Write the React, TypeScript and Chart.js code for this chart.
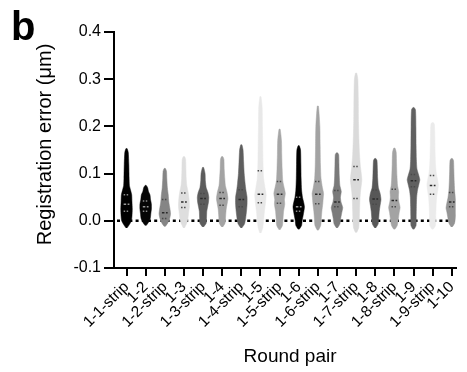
import React, { useEffect, useRef } from 'react';
import { Chart, registerables } from 'chart.js';

Chart.register(...registerables);

const FONT = "'Liberation Sans', Arial, Helvetica, sans-serif";

const categories = ['1-1-strip', '1-2', '1-2-strip', '1-3', '1-3-strip', '1-4', '1-4-strip', '1-5', '1-5-strip', '1-6', '1-6-strip', '1-7', '1-7-strip', '1-8', '1-8-strip', '1-9', '1-9-strip', '1-10'];
const yTicks = [-0.1, 0, 0.1, 0.2, 0.3, 0.4];

// violin outline: error levels (µm) and relative density at each level
const violinLevels: number[][] = [
  [-0.015, -0.008, 0.0, 0.01, 0.025, 0.04, 0.055, 0.065, 0.075, 0.09, 0.12, 0.145, 0.153],
  [-0.01, -0.003, 0.005, 0.015, 0.025, 0.035, 0.045, 0.055, 0.062, 0.07, 0.075],
  [-0.012, -0.005, 0.005, 0.015, 0.025, 0.04, 0.055, 0.07, 0.09, 0.105, 0.111],
  [-0.015, -0.005, 0.005, 0.02, 0.03, 0.045, 0.06, 0.075, 0.09, 0.11, 0.13, 0.136],
  [-0.013, -0.005, 0.005, 0.02, 0.03, 0.04, 0.05, 0.06, 0.07, 0.085, 0.1, 0.113],
  [-0.013, -0.005, 0.01, 0.025, 0.035, 0.047, 0.06, 0.075, 0.09, 0.11, 0.13, 0.136],
  [-0.015, -0.007, 0.005, 0.02, 0.035, 0.05, 0.065, 0.08, 0.1, 0.125, 0.15, 0.161],
  [-0.026, -0.015, 0.0, 0.02, 0.04, 0.055, 0.07, 0.09, 0.12, 0.16, 0.2, 0.24, 0.263],
  [-0.019, -0.01, 0.005, 0.02, 0.035, 0.045, 0.058, 0.07, 0.085, 0.11, 0.14, 0.17, 0.194],
  [-0.018, -0.01, 0.0, 0.01, 0.02, 0.03, 0.04, 0.05, 0.065, 0.09, 0.12, 0.15, 0.159],
  [-0.02, -0.01, 0.005, 0.02, 0.035, 0.05, 0.058, 0.07, 0.09, 0.12, 0.16, 0.2, 0.243],
  [-0.015, -0.007, 0.005, 0.015, 0.028, 0.04, 0.05, 0.062, 0.075, 0.095, 0.12, 0.14, 0.144],
  [-0.025, -0.015, 0.0, 0.02, 0.04, 0.06, 0.075, 0.087, 0.1, 0.115, 0.14, 0.17, 0.21, 0.26, 0.3, 0.313],
  [-0.015, -0.007, 0.005, 0.02, 0.033, 0.045, 0.058, 0.07, 0.09, 0.11, 0.128, 0.132],
  [-0.018, -0.01, 0.005, 0.018, 0.028, 0.04, 0.05, 0.062, 0.075, 0.095, 0.12, 0.145, 0.154],
  [-0.018, -0.01, 0.01, 0.03, 0.05, 0.065, 0.078, 0.087, 0.097, 0.11, 0.13, 0.16, 0.2, 0.235, 0.24],
  [-0.018, -0.01, 0.01, 0.03, 0.05, 0.065, 0.076, 0.088, 0.1, 0.12, 0.15, 0.18, 0.205, 0.208],
  [-0.013, -0.005, 0.008, 0.018, 0.027, 0.038, 0.05, 0.065, 0.085, 0.11, 0.128, 0.132],
];
const violinDensity: number[][] = [
  [0.1, 0.5, 0.85, 0.95, 1.0, 0.95, 0.9, 0.7, 0.5, 0.45, 0.4, 0.3, 0.1],
  [0.1, 0.5, 0.8, 0.9, 1.0, 1.0, 0.85, 0.75, 0.5, 0.35, 0.1],
  [0.1, 0.5, 0.85, 1.0, 0.9, 0.7, 0.6, 0.45, 0.35, 0.3, 0.1],
  [0.1, 0.5, 0.7, 0.85, 0.95, 0.9, 0.75, 0.5, 0.4, 0.35, 0.3, 0.1],
  [0.1, 0.55, 0.6, 0.65, 0.8, 0.95, 1.0, 0.85, 0.55, 0.4, 0.35, 0.1],
  [0.1, 0.5, 0.6, 0.7, 0.85, 1.0, 0.85, 0.55, 0.45, 0.35, 0.3, 0.1],
  [0.1, 0.55, 0.75, 0.9, 1.0, 1.0, 0.8, 0.65, 0.5, 0.4, 0.3, 0.1],
  [0.1, 0.4, 0.55, 0.7, 0.9, 1.0, 0.8, 0.55, 0.45, 0.4, 0.35, 0.3, 0.1],
  [0.1, 0.5, 0.6, 0.7, 0.9, 0.85, 1.0, 0.8, 0.55, 0.45, 0.38, 0.33, 0.1],
  [0.1, 0.5, 0.6, 0.75, 0.9, 1.0, 0.85, 0.65, 0.5, 0.42, 0.38, 0.32, 0.1],
  [0.1, 0.5, 0.6, 0.7, 0.85, 0.95, 1.0, 0.8, 0.55, 0.45, 0.4, 0.35, 0.1],
  [0.1, 0.5, 0.65, 0.8, 1.0, 0.7, 0.6, 0.75, 0.5, 0.4, 0.35, 0.3, 0.1],
  [0.1, 0.45, 0.55, 0.6, 0.65, 0.75, 0.9, 1.0, 0.9, 0.75, 0.6, 0.5, 0.42, 0.38, 0.3, 0.1],
  [0.1, 0.5, 0.6, 0.7, 0.85, 1.0, 0.85, 0.55, 0.42, 0.37, 0.3, 0.1],
  [0.1, 0.5, 0.7, 0.85, 1.0, 0.8, 0.7, 0.75, 0.55, 0.45, 0.38, 0.32, 0.1],
  [0.1, 0.45, 0.47, 0.5, 0.55, 0.7, 0.95, 1.1, 0.9, 0.6, 0.5, 0.45, 0.42, 0.35, 0.1],
  [0.1, 0.5, 0.55, 0.6, 0.7, 0.9, 1.0, 0.85, 0.65, 0.5, 0.42, 0.38, 0.3, 0.1],
  [0.1, 0.5, 0.7, 0.85, 1.0, 0.85, 0.65, 0.5, 0.42, 0.36, 0.3, 0.1],
];

const quartile1 = [0.02, 0.02, 0.005, 0.028, 0.035, 0.033, 0.03, 0.038, 0.037, 0.02, 0.036, 0.03, 0.047, 0.035, 0.03, 0.072, 0.056, 0.03];
const medians = [0.035, 0.03, 0.017, 0.04, 0.047, 0.047, 0.045, 0.056, 0.056, 0.03, 0.056, 0.04, 0.087, 0.046, 0.043, 0.085, 0.075, 0.04];
const quartile3 = [0.055, 0.042, 0.045, 0.059, 0.058, 0.06, 0.066, 0.106, 0.083, 0.05, 0.083, 0.064, 0.115, 0.065, 0.067, 0.098, 0.096, 0.06];

const fillColors = ['#000000', '#050505', '#858585', '#dedede', '#5c5c5c', '#a3a3a3', '#5e5e5e', '#e8e8e8', '#a6a6a6', '#000000', '#a3a3a3', '#7a7a7a', '#dadada', '#575757', '#a3a3a3', '#606060', '#ebebeb', '#949494'];

const HALF_WIDTH = 0.3; // max half width of a violin in category units
const STAT_HALF = 0.15;

function isDark(hex: string) {
  const v = parseInt(hex.slice(1, 3), 16);
  return v < 40;
}

const zeroLine = {
  id: 'zeroLine',
  beforeDatasetsDraw(chart: any) {
    const { ctx, chartArea, scales } = chart;
    const py = scales.y.getPixelForValue(0);
    ctx.save();
    ctx.setLineDash([3, 3.2]);
    ctx.lineWidth = 2.5;
    ctx.strokeStyle = '#000';
    ctx.beginPath();
    ctx.moveTo(chartArea.left + 3, py);
    ctx.lineTo(chartArea.right, py);
    ctx.stroke();
    ctx.restore();
  },
};

export default function App() {
  const ref = useRef<HTMLCanvasElement | null>(null);

  useEffect(() => {
    if (!ref.current) return;
    const datasets: any[] = [];
    categories.forEach((_, i) => {
      const lv = violinLevels[i];
      const dn = violinDensity[i];
      const right = lv.map((v, k) => ({ x: i + dn[k] * HALF_WIDTH, y: v }));
      const left = lv.map((v, k) => ({ x: i - dn[k] * HALF_WIDTH, y: v })).reverse();
      datasets.push({
        data: [...right, ...left],
        backgroundColor: fillColors[i],
        borderColor: fillColors[i],
        borderWidth: 0.5,
        fill: 'shape',
        tension: 0.2,
        pointRadius: 0,
        order: 10,
      });
    });
    categories.forEach((_, i) => {
      const dark = isDark(fillColors[i]);
      const col = dark ? '#9a9a9a' : '#2a2a2a';
      const qcol = dark ? '#8a8a8a' : '#4a4a4a';
      [
        { v: medians[i], dash: [2.5, 1.5], c: col },
        { v: quartile1[i], dash: [1.5, 1.5], c: qcol },
        { v: quartile3[i], dash: [1.5, 1.5], c: qcol },
      ].forEach((s) => {
        datasets.push({
          data: [
            { x: i - STAT_HALF, y: s.v },
            { x: i + STAT_HALF, y: s.v },
          ],
          borderColor: s.c,
          borderWidth: 1.5,
          borderDash: s.dash,
          pointRadius: 0,
          fill: false,
          order: 1,
        });
      });
    });

    const chart = new Chart(ref.current, {
      type: 'line',
      data: { datasets },
      plugins: [zeroLine],
      options: {
        animation: false,
        responsive: true,
        maintainAspectRatio: false,
        layout: { padding: { top: 32, right: 7, left: 0, bottom: 0 } },
        plugins: { legend: { display: false }, tooltip: { enabled: false } },
        scales: {
          x: {
            type: 'linear',
            min: -0.655,
            max: 17.2,
            afterBuildTicks: (ax: any) => {
              ax.ticks = categories.map((_, i) => ({ value: i }));
            },
            afterFit: (s: any) => {
              s.height = 104;
            },
            ticks: {
              autoSkip: false,
              minRotation: 45,
              maxRotation: 45,
              padding: 2,
              color: '#000',
              font: { size: 15.5, family: FONT },
              callback: (v: any) => categories[Math.round(Number(v))],
            },
            grid: { display: true, drawOnChartArea: false, drawTicks: true, tickLength: 8, color: '#000', lineWidth: 2 },
            border: { display: true, color: '#000', width: 2 },
            title: { display: true, text: '\u00a0\u00a0Round pair', color: '#000', font: { size: 19, family: FONT }, padding: { top: 0, bottom: 4 } },
          },
          y: {
            type: 'linear',
            min: -0.1,
            max: 0.4,
            afterBuildTicks: (ax: any) => {
              ax.ticks = yTicks.map((v) => ({ value: v }));
            },
            afterFit: (s: any) => {
              s.width = 114;
            },
            ticks: {
              padding: 3,
              color: '#000',
              font: { size: 16, family: FONT },
              callback: (v: any) => Number(v).toFixed(1),
            },
            grid: { display: true, drawOnChartArea: false, drawTicks: true, tickLength: 10, color: '#000', lineWidth: 2 },
            border: { display: true, color: '#000', width: 2 },
            title: { display: true, text: '\u00a0\u00a0Registration error (μm)', color: '#000', font: { size: 20, family: FONT }, padding: { top: 33, bottom: 0 } },
          },
        },
      },
    } as any);
    return () => chart.destroy();
  }, []);

  return (
    <div style={{ position: 'absolute', left: 0, top: 0, width: 467, height: 372, background: '#fff' }}>
      <canvas ref={ref} />
      <div
        style={{
          position: 'absolute',
          left: 11,
          top: 6,
          fontFamily: FONT,
          fontWeight: 'bold',
          fontSize: 40,
          lineHeight: '40px',
          color: '#000',
        }}
      >
        b
      </div>
    </div>
  );
}
